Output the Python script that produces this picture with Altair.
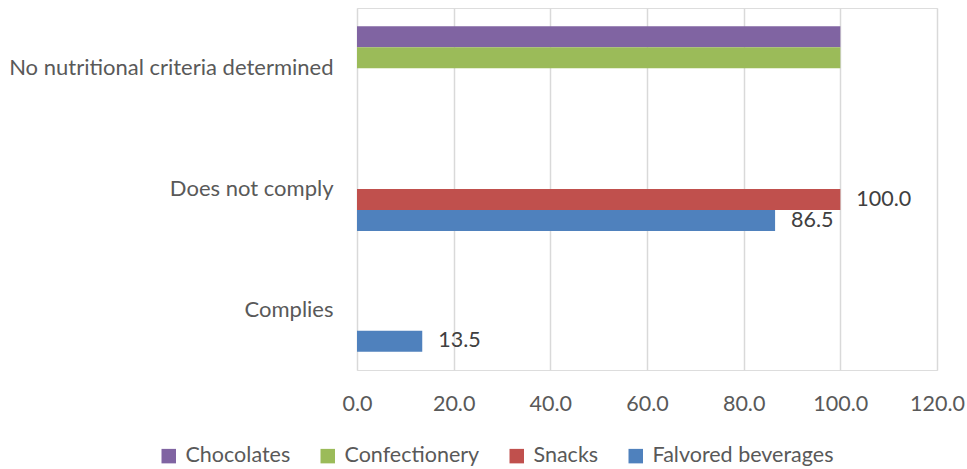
import altair as alt
import pandas as pd

categories = ["No nutritional criteria determined", "Does not comply", "Complies"]
series = ["Chocolates", "Confectionery", "Snacks", "Falvored beverages"]
colors = ["#8064A2", "#9BBB59", "#C0504D", "#4F81BD"]

rows_cat = ["No nutritional criteria determined", "No nutritional criteria determined",
            "Does not comply", "Does not comply", "Complies"]
rows_ser = ["Chocolates", "Confectionery", "Snacks", "Falvored beverages", "Falvored beverages"]
rows_val = [100.0, 100.0, 100.0, 86.5, 13.5]
rows_lab = ["", "", "100.0", "86.5", "13.5"]

df = pd.DataFrame({"cat": rows_cat, "ser": rows_ser, "val": rows_val, "lab": rows_lab})

FONT = "Lato"
GREY = "#595959"

y = alt.Y("cat:N", sort=categories, scale=alt.Scale(domain=categories, paddingInner=0, paddingOuter=0),
          axis=alt.Axis(title=None, domain=False, ticks=False, labelPadding=24, labelFontSize=22,
                        labelFont=FONT, labelColor=GREY, labelLimit=400))
yoff = alt.YOffset("ser:N", sort=series, scale=alt.Scale(domain=series, paddingInner=0, paddingOuter=0.87))
x = alt.X("val:Q", scale=alt.Scale(domain=[0, 120]),
          axis=alt.Axis(title=None, values=[0, 20, 40, 60, 80, 100, 120], format=".1f", domain=False,
                        ticks=False, labelPadding=23, labelFontSize=21.5, labelFont=FONT, labelColor=GREY,
                        labelFlush=False, labelOverlap=False,
                        gridColor="#D9D9D9", gridWidth=1.5))

bars = alt.Chart(df).mark_bar(size=21).encode(
    x=x, y=y, yOffset=yoff,
    color=alt.Color("ser:N", sort=series, scale=alt.Scale(domain=series, range=colors),
                    legend=alt.Legend(title=None, orient="none", direction="horizontal",
                                      legendX=-199, legendY=437, symbolType="square", symbolSize=210,
                                      symbolStrokeWidth=0, labelFontSize=21.5, labelFont=FONT,
                                      labelColor=GREY, labelLimit=400, columnPadding=26,
                                      symbolOffset=0, labelOffset=6)),
)

labels = alt.Chart(df).mark_text(align="left", baseline="middle", dx=16, fontSize=21.5, font=FONT,
                                 color="#404040").encode(
    x="val:Q", y=alt.Y("cat:N", sort=categories), yOffset=alt.YOffset("ser:N", sort=series), text="lab:N"
)

chart = (bars + labels).properties(
    width=580, height=362,
    autosize=alt.AutoSizeParams(type="none"),
    padding={"left": 357, "top": 8, "right": 30, "bottom": 99},
).configure_view(stroke=None).configure(background="white")

chart.save("out.html", embed_options={"renderer": "svg", "actions": False})
